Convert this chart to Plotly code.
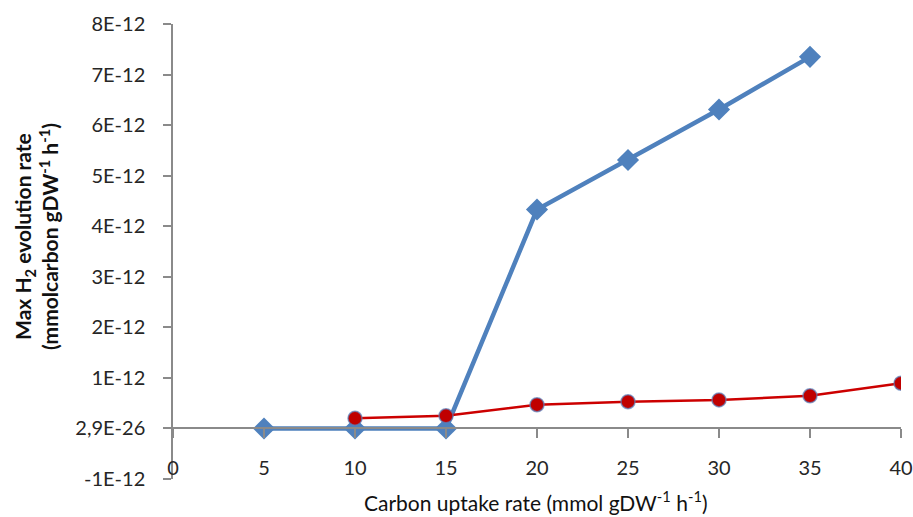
import plotly.graph_objects as go

# Carbon uptake rate (mmol gDW^-1 h^-1)
uptake_blue = [5, 10, 15, 20, 25, 30, 35]
h2_blue = [0.0, 0.0, 0.0, 4.33e-12, 5.31e-12, 6.31e-12, 7.35e-12]

uptake_red = [10, 15, 20, 25, 30, 35, 40]
h2_red = [0.20e-12, 0.25e-12, 0.47e-12, 0.53e-12, 0.565e-12, 0.645e-12, 0.895e-12]

y_tickvals = [-1e-12, 0, 1e-12, 2e-12, 3e-12, 4e-12, 5e-12, 6e-12, 7e-12, 8e-12]
y_ticktext = ["-1E-12", "2,9E-26", "1E-12", "2E-12", "3E-12", "4E-12",
              "5E-12", "6E-12", "7E-12", "8E-12"]
x_tickvals = [0, 5, 10, 15, 20, 25, 30, 35, 40]

FONT = "Lato"
TXT = "#262626"
AXIS = "#8a8a8a"

fig = go.Figure()

fig.add_trace(go.Scatter(
    x=uptake_blue, y=h2_blue, mode="lines+markers",
    line=dict(color="#4F81BD", width=4.5),
    marker=dict(symbol="diamond", size=17, color="#4F81BD"),
    showlegend=False,
))
fig.add_trace(go.Scatter(
    x=uptake_red, y=h2_red, mode="lines+markers",
    line=dict(color="#CC0000", width=2.5),
    marker=dict(symbol="circle", size=14, color="#C00000",
                line=dict(color="rgba(90,130,190,0.7)", width=1.5)),
    showlegend=False,
))
# helper trace so the label axis near the bottom is drawn
fig.add_trace(go.Scatter(
    x=[0, 40], y=[0, 0], xaxis="x2", mode="markers",
    marker=dict(opacity=0), hoverinfo="skip", showlegend=False,
))

fig.update_layout(
    width=913, height=517,
    margin=dict(l=173, r=12, t=24, b=38, autoexpand=False),
    paper_bgcolor="white", plot_bgcolor="white",
    font=dict(family=FONT, color=TXT, size=19),
    xaxis=dict(
        range=[0, 40], tickvals=x_tickvals, showticklabels=False,
        anchor="free", position=1 / 9, automargin=False,
        showline=True, linecolor=AXIS, linewidth=1.5,
        ticks="outside", ticklen=9, tickcolor=AXIS, tickwidth=1.5,
        showgrid=False, zeroline=False,
    ),
    xaxis2=dict(
        range=[0, 40], tickvals=x_tickvals, overlaying="x",
        anchor="free", position=0.055, automargin=False,
        side="bottom", showline=False, ticks="", showgrid=False,
        zeroline=False,
        tickfont=dict(family=FONT, size=20, color=TXT),
    ),
    yaxis=dict(
        range=[-1e-12, 8e-12], tickvals=y_tickvals, ticktext=y_ticktext,
        showline=True, linecolor=AXIS, linewidth=1.5, automargin=False,
        ticks="outside", ticklen=8, tickcolor=AXIS, tickwidth=1.5,
        ticklabelstandoff=14,
        showgrid=False, zeroline=False,
        tickfont=dict(family=FONT, size=20, color=TXT),
    ),
    annotations=[
        dict(
            text="<b>Max H<sub>2</sub> evolution rate</b><br>"
                 "<b>(mmolcarbon gDW<sup>-1</sup> h<sup>-1</sup>)</b>",
            xref="paper", yref="paper", x=-0.188, y=0.532,
            xanchor="center", yanchor="middle", textangle=-90,
            showarrow=False, font=dict(family=FONT, size=21, color="#111111"),
        ),
        dict(
            text="Carbon uptake rate (mmol gDW<sup>-1</sup> h<sup>-1</sup>)",
            xref="paper", yref="paper", x=0.4986, y=-0.0835,
            xanchor="center", yanchor="bottom",
            showarrow=False, font=dict(family=FONT, size=21, color="#111111"),
        ),
    ],
)

fig.write_html("out.html")
